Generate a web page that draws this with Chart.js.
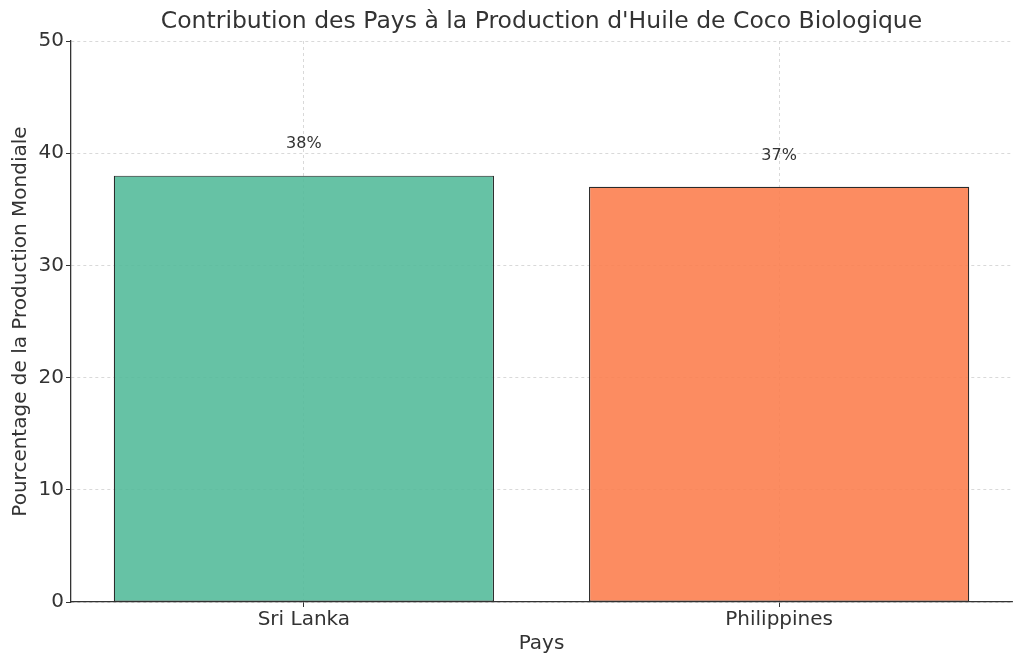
<!DOCTYPE html>
<html><head><meta charset="utf-8">
<script src="https://cdn.jsdelivr.net/npm/chart.js@4"></script>
<style>html,body{margin:0;padding:0;background:#fff}#wrap{width:1024px;height:667px}</style>
</head><body><div id="wrap"><canvas id="c"></canvas></div>
<script>
const categories = ['Sri Lanka', 'Philippines'];
const values = [38, 37];
const valueLabels = ['38%', '37%'];
const yTicks = [0, 10, 20, 30, 40, 50];
const titleText = "Contribution des Pays à la Production d'Huile de Coco Biologique";
const xTitle = 'Pays';
const yTitle = 'Pourcentage de la Production Mondiale';

const FONT = 'DejaVu Sans';
const TXT = '#333333';

const overlay = {
  id: 'overlay',
  afterDatasetsDraw(chart) {
    const ctx = chart.ctx, x = chart.scales.x, y = chart.scales.y, a = chart.chartArea;
    ctx.save();
    ctx.fillStyle = TXT;
    ctx.textAlign = 'center';
    ctx.font = '16px "' + FONT + '"';
    ctx.textBaseline = 'bottom';
    values.forEach((v, i) => {
      ctx.fillText(valueLabels[i], x.getPixelForValue(i), y.getPixelForValue(v + 2) - 1);
    });
    ctx.font = '23.5px "' + FONT + '"';
    ctx.textBaseline = 'middle';
    ctx.fillText(titleText, (a.left + a.right) / 2, 22);
    ctx.font = '20px "' + FONT + '"';
    ctx.fillText(xTitle, (a.left + a.right) / 2, 644);
    ctx.translate(21, (a.top + a.bottom) / 2);
    ctx.rotate(-Math.PI / 2);
    ctx.fillText(yTitle, 0, 0);
    ctx.restore();
  }
};

new Chart(document.getElementById('c'), {
  type: 'bar',
  data: {
    datasets: [{
      data: values.map((v, i) => ({ x: i, y: v })),
      backgroundColor: ['rgba(85,187,155,0.9)', 'rgba(252,128,80,0.9)'],
      borderColor: '#2a2a2a',
      borderWidth: 1.2,
      borderSkipped: false,
      categoryPercentage: 1,
      barPercentage: 0.8
    }]
  },
  options: {
    responsive: true,
    maintainAspectRatio: false,
    animation: false,
    devicePixelRatio: 1,
    layout: { padding: { left: 0, right: 12, top: 41, bottom: 0 } },
    plugins: { legend: { display: false }, tooltip: { enabled: false }, title: { display: false } },
    scales: {
      x: {
        type: 'linear',
        min: -0.49, max: 1.49,
        offset: false,
        afterBuildTicks(s) { s.ticks = categories.map((c, i) => ({ value: i })); },
        grid: { offset: false, color: '#d0d0d0', lineWidth: 0.8, drawTicks: true, tickLength: 5, tickColor: '#333333', tickWidth: 1 },
        border: { display: true, color: '#333333', width: 1.3, dash: [3, 3] },
        ticks: { color: TXT, font: { family: FONT, size: 20 }, padding: 1, callback: (v) => categories[v] },
        afterFit(s) { s.height = 65; }
      },
      y: {
        min: 0, max: 50,
        afterBuildTicks(s) { s.ticks = yTicks.map(v => ({ value: v })); },
        grid: { color: '#d0d0d0', lineWidth: 0.8, drawTicks: true, tickLength: 5, tickColor: '#333333', tickWidth: 1 },
        border: { display: true, color: '#333333', width: 1.3, dash: [3, 3] },
        ticks: { color: TXT, font: { family: FONT, size: 20 }, padding: 2 },
        afterFit(s) { s.width = 71; }
      }
    }
  },
  plugins: [overlay]
});
</script></body></html>
